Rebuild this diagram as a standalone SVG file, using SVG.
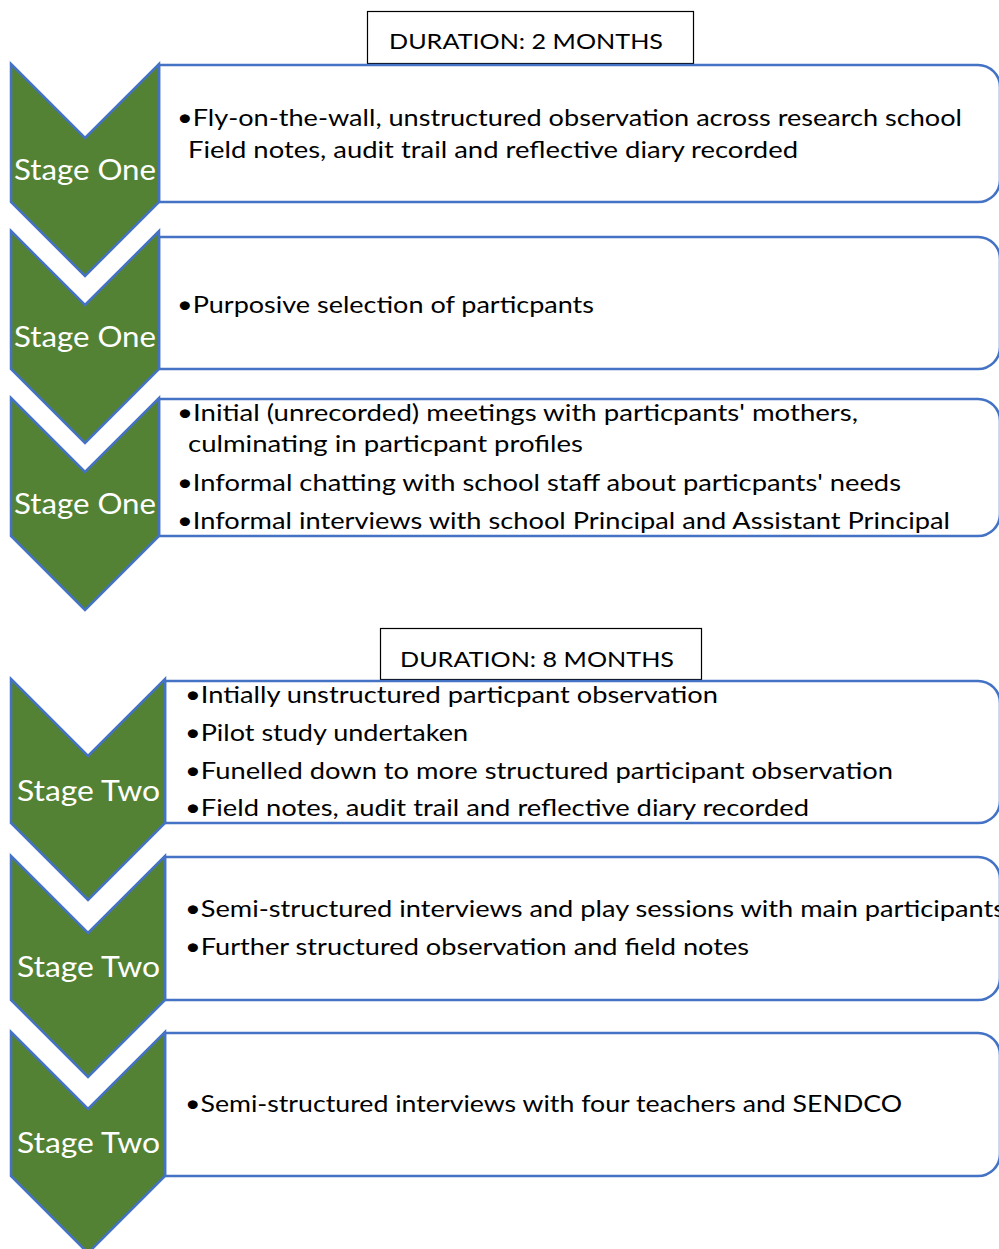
<svg xmlns="http://www.w3.org/2000/svg" width="999" height="1249" viewBox="0 0 999 1249">
  <style>
    .chev { fill: #548235; stroke: #4472C4; stroke-width: 2.5; stroke-linejoin: miter; }
    .box { fill: #FFFFFF; stroke: #4472C4; stroke-width: 2.5; }
    .dur { fill: #FFFFFF; stroke: #000000; stroke-width: 1.2; }
    .stage { font-family: Lato, "Open Sans", "Liberation Sans", sans-serif; font-size: 28px; fill: #FFFFFF; text-anchor: middle; }
    .item { font-family: Lato, "Open Sans", "Liberation Sans", sans-serif; font-size: 23px; fill: #000000; }
    .durtxt { font-family: Lato, "Open Sans", "Liberation Sans", sans-serif; font-size: 22px; fill: #000000; text-anchor: middle; }
  </style>

  <rect width="999" height="1249" fill="#FFFFFF"/>

  <!-- Phase one duration -->
  <g id="duration-1">
    <rect class="dur" x="367.5" y="11.5" width="326" height="52"/>
    <text class="durtxt" x="526" y="49" textLength="274" lengthAdjust="spacingAndGlyphs">DURATION: 2 MONTHS</text>
  </g>

  <!-- Stage One, step 1 -->
  <g id="stage-one-1">
    <path class="box" d="M159,65 H978 A22,22 0 0 1 1000,87 V180 A22,22 0 0 1 978,202 H159 Z"/>
    <path class="chev" d="M11,64 L85,138 L159,64 L159,202 L85,276 L11,202 Z"/>
    <text class="stage" x="85" y="180" textLength="142" lengthAdjust="spacingAndGlyphs">Stage One</text>
    <text class="item" x="177" y="126" textLength="785" lengthAdjust="spacingAndGlyphs">•Fly-on-the-wall, unstructured observation across research school</text>
    <text class="item" x="188" y="158" textLength="610" lengthAdjust="spacingAndGlyphs">Field notes, audit trail and reflective diary recorded</text>
  </g>

  <!-- Stage One, step 2 -->
  <g id="stage-one-2">
    <path class="box" d="M159,237 H978 A22,22 0 0 1 1000,259 V347 A22,22 0 0 1 978,369 H159 Z"/>
    <path class="chev" d="M11,231 L85,305 L159,231 L159,369 L85,443 L11,369 Z"/>
    <text class="stage" x="85" y="347" textLength="142" lengthAdjust="spacingAndGlyphs">Stage One</text>
    <text class="item" x="177" y="313" textLength="417" lengthAdjust="spacingAndGlyphs">•Purposive selection of particpants</text>
  </g>

  <!-- Stage One, step 3 -->
  <g id="stage-one-3">
    <path class="box" d="M159,399 H978 A22,22 0 0 1 1000,421 V514 A22,22 0 0 1 978,536 H159 Z"/>
    <path class="chev" d="M11,398 L85,472 L159,398 L159,536 L85,610 L11,536 Z"/>
    <text class="stage" x="85" y="514" textLength="142" lengthAdjust="spacingAndGlyphs">Stage One</text>
    <text class="item" x="177" y="421" textLength="681" lengthAdjust="spacingAndGlyphs">•Initial (unrecorded) meetings with particpants' mothers,</text>
    <text class="item" x="188" y="452" textLength="395" lengthAdjust="spacingAndGlyphs">culminating in particpant profiles</text>
    <text class="item" x="177" y="491" textLength="724" lengthAdjust="spacingAndGlyphs">•Informal chatting with school staff about particpants' needs</text>
    <text class="item" x="177" y="529" textLength="773" lengthAdjust="spacingAndGlyphs">•Informal interviews with school Principal and Assistant Principal</text>
  </g>

  <!-- Phase two duration -->
  <g id="duration-2">
    <rect class="dur" x="380.5" y="628.5" width="321" height="51"/>
    <text class="durtxt" x="537" y="667" textLength="274" lengthAdjust="spacingAndGlyphs">DURATION: 8 MONTHS</text>
  </g>

  <!-- Stage Two, step 1 -->
  <g id="stage-two-1">
    <path class="box" d="M165,681 H978 A22,22 0 0 1 1000,703 V801 A22,22 0 0 1 978,823 H165 Z"/>
    <path class="chev" d="M11,679 L88,756 L165,679 L165,823 L88,900 L11,823 Z"/>
    <text class="stage" x="88.5" y="801" textLength="143" lengthAdjust="spacingAndGlyphs">Stage Two</text>
    <text class="item" x="185" y="703" textLength="533" lengthAdjust="spacingAndGlyphs">•Intially unstructured particpant observation</text>
    <text class="item" x="185" y="741" textLength="283" lengthAdjust="spacingAndGlyphs">•Pilot study undertaken</text>
    <text class="item" x="185" y="779" textLength="708" lengthAdjust="spacingAndGlyphs">•Funelled down to more structured participant observation</text>
    <text class="item" x="185" y="816" textLength="624" lengthAdjust="spacingAndGlyphs">•Field notes, audit trail and reflective diary recorded</text>
  </g>

  <!-- Stage Two, step 2 -->
  <g id="stage-two-2">
    <path class="box" d="M165,857 H978 A22,22 0 0 1 1000,879 V978 A22,22 0 0 1 978,1000 H165 Z"/>
    <path class="chev" d="M11,856 L88,933 L165,856 L165,1000 L88,1077 L11,1000 Z"/>
    <text class="stage" x="88.5" y="977" textLength="143" lengthAdjust="spacingAndGlyphs">Stage Two</text>
    <text class="item" x="185" y="917" textLength="820" lengthAdjust="spacingAndGlyphs">•Semi-structured interviews and play sessions with main participants</text>
    <text class="item" x="185" y="955" textLength="564" lengthAdjust="spacingAndGlyphs">•Further structured observation and field notes</text>
  </g>

  <!-- Stage Two, step 3 -->
  <g id="stage-two-3">
    <path class="box" d="M165,1033 H978 A22,22 0 0 1 1000,1055 V1154 A22,22 0 0 1 978,1176 H165 Z"/>
    <path class="chev" d="M11,1032 L88,1109 L165,1032 L165,1176 L88,1253 L11,1176 Z"/>
    <text class="stage" x="88.5" y="1153" textLength="143" lengthAdjust="spacingAndGlyphs">Stage Two</text>
    <text class="item" x="185" y="1112" textLength="717" lengthAdjust="spacingAndGlyphs">•Semi-structured interviews with four teachers and SENDCO</text>
  </g>

  <!-- no connectors: the steps are stacked chevrons -->
  <g id="connectors"/>
</svg>
